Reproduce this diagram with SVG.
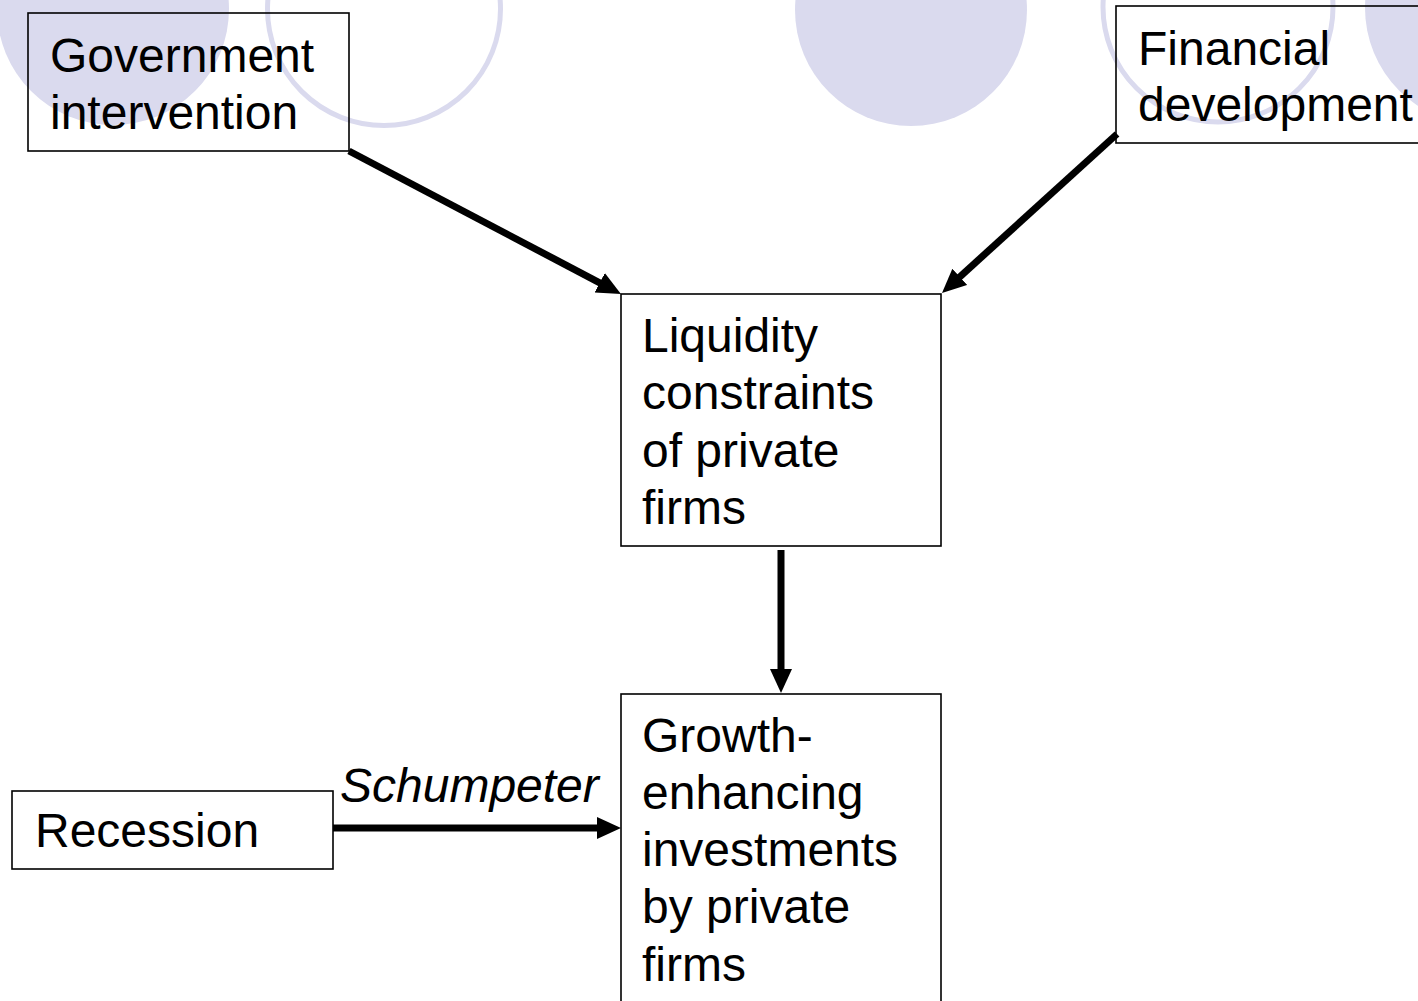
<svg xmlns="http://www.w3.org/2000/svg" width="1418" height="1001" viewBox="0 0 1418 1001">
<style>
.box{fill:none;stroke:#000;stroke-width:1.6}
.bg-fill{fill:#dadaee}
.bg-ring{fill:none;stroke:#dadaee;stroke-width:5}
.t{font-family:"Liberation Sans",Arial,sans-serif;font-size:48px;fill:#000}
.lbl{font-family:"Liberation Sans",Arial,sans-serif;font-size:48px;font-style:italic;fill:#000}
.conn{stroke:#000;stroke-width:7;fill:none;marker-end:url(#ah)}
</style>
<defs>
<marker id="ah" markerUnits="userSpaceOnUse" markerWidth="26" markerHeight="24" refX="14" refY="11" orient="auto">
<path d="M0,0 L24,11 L0,22 Z" fill="#000"/>
</marker>
</defs>
<rect width="1418" height="1001" fill="#fff"/>
<g id="background">
<circle class="bg-fill" cx="113" cy="9" r="116"/>
<circle class="bg-ring" cx="384" cy="9" r="116.5"/>
<circle class="bg-fill" cx="911" cy="10" r="116"/>
<circle class="bg-ring" cx="1218" cy="7" r="115"/>
<circle class="bg-fill" cx="1482" cy="8" r="117"/>
</g>
<g id="connectors">
<line class="conn" x1="349" y1="151" x2="612.1" y2="289.3"/>
<line class="conn" x1="1117" y1="134" x2="949.4" y2="286.3"/>
<line class="conn" x1="781" y1="550" x2="781" y2="683"/>
<line class="conn" x1="333" y1="828" x2="611" y2="828"/>
<text class="lbl" x="340" y="802">Schumpeter</text>
</g>
<g id="government">
<rect class="box" x="28" y="13" width="321" height="138"/>
<text class="t" x="50" y="72">Government</text>
<text class="t" x="50" y="129">intervention</text>
</g>
<g id="financial">
<rect class="box" x="1116" y="6" width="310" height="137"/>
<text class="t" x="1138" y="65">Financial</text>
<text class="t" x="1138" y="121">development</text>
</g>
<g id="liquidity">
<rect class="box" x="621" y="294" width="320" height="252"/>
<text class="t" x="642" y="352">Liquidity</text>
<text class="t" x="642" y="409">constraints</text>
<text class="t" x="642" y="467">of private</text>
<text class="t" x="642" y="524">firms</text>
</g>
<g id="growth">
<rect class="box" x="621" y="694" width="320" height="330"/>
<text class="t" x="642" y="752">Growth-</text>
<text class="t" x="642" y="809">enhancing</text>
<text class="t" x="642" y="866">investments</text>
<text class="t" x="642" y="923">by private</text>
<text class="t" x="642" y="981">firms</text>
</g>
<g id="recession">
<rect class="box" x="12" y="791" width="321" height="78"/>
<text class="t" x="35" y="847">Recession</text>
</g>
</svg>
